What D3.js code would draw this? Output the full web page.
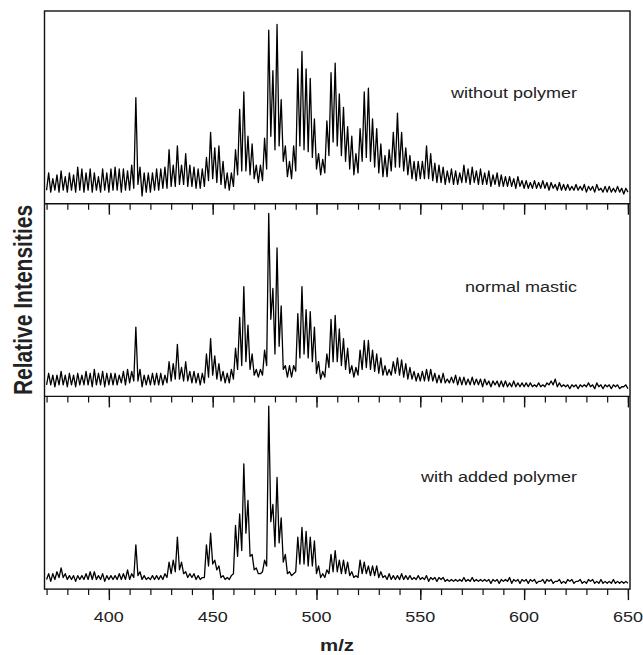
<!DOCTYPE html>
<html>
<head>
<meta charset="utf-8">
<script src="https://cdn.jsdelivr.net/npm/d3@7"></script>
<style>
  body { margin: 0; background: #fff; }
  text { font-family: "Liberation Sans", Arial, sans-serif; fill: #222; }
</style>
</head>
<body>
<svg width="643" height="655"></svg>
<script>
// intensities (% of panel height) at every integer m/z from 370 to 650
const mzStart = 370;

const withoutPolymer = [
  7, 16, 6, 13, 7, 15, 6, 17, 7, 14,
  6, 16, 7, 15, 6, 19, 7, 18, 6, 16,
  7, 18, 6, 16, 7, 14, 6, 18, 7, 16,
  6, 18, 7, 19, 7, 18, 6, 18, 7, 17,
  7, 20, 8, 55, 10, 19, 4, 16, 6, 16,
  6, 16, 7, 18, 7, 18, 8, 19, 8, 28,
  9, 20, 9, 30, 10, 20, 10, 26, 9, 20,
  9, 19, 8, 18, 8, 18, 9, 24, 12, 37,
  13, 29, 11, 30, 10, 22, 8, 16, 7, 16,
  9, 28, 15, 49, 17, 58, 17, 35, 15, 31,
  13, 20, 11, 20, 12, 34, 18, 90, 35, 69,
  28, 93, 30, 54, 22, 30, 14, 22, 13, 30,
  17, 70, 30, 79, 28, 70, 27, 65, 24, 44,
  18, 26, 15, 23, 16, 43, 25, 68, 32, 73,
  30, 57, 25, 50, 22, 40, 18, 35, 15, 26,
  16, 39, 22, 58, 24, 60, 22, 44, 19, 39,
  16, 31, 14, 25, 14, 28, 17, 37, 19, 47,
  19, 37, 17, 29, 15, 25, 13, 22, 12, 22,
  13, 22, 13, 30, 13, 26, 12, 21, 11, 20,
  11, 19, 10, 17, 11, 18, 10, 17, 10, 16,
  11, 20, 11, 18, 10, 19, 11, 17, 10, 18,
  10, 16, 10, 17, 9, 15, 10, 16, 9, 15,
  9, 14, 9, 14, 9, 13, 8, 14, 9, 12,
  8, 12, 8, 11, 8, 12, 8, 11, 8, 12,
  8, 11, 7, 11, 8, 10, 7, 11, 7, 10,
  7, 10, 7, 9, 7, 10, 7, 9, 7, 10,
  6, 9, 7, 9, 6, 10, 7, 8, 6, 9,
  6, 9, 6, 8, 6, 9, 6, 8, 5, 8,
  6
];

const normalMastic = [
  6, 12, 6, 11, 5, 11, 6, 13, 6, 11,
  5, 12, 6, 11, 5, 12, 6, 11, 6, 13,
  6, 12, 5, 14, 6, 12, 6, 13, 5, 12,
  6, 12, 6, 12, 6, 11, 7, 13, 6, 14,
  7, 13, 8, 36, 8, 14, 5, 11, 6, 11,
  6, 12, 6, 12, 6, 12, 6, 11, 7, 18,
  8, 17, 9, 27, 9, 15, 8, 18, 8, 13,
  7, 13, 7, 12, 6, 12, 7, 22, 10, 30,
  11, 21, 9, 17, 8, 13, 7, 12, 7, 14,
  9, 25, 14, 41, 16, 57, 18, 37, 14, 22,
  11, 14, 10, 14, 11, 24, 16, 95, 40, 56,
  22, 77, 26, 47, 14, 16, 10, 16, 10, 16,
  13, 43, 20, 57, 22, 45, 20, 44, 18, 36,
  12, 18, 9, 13, 10, 22, 15, 40, 18, 42,
  18, 35, 16, 30, 14, 25, 12, 16, 10, 15,
  11, 24, 14, 29, 15, 29, 14, 24, 13, 22,
  12, 20, 11, 16, 11, 14, 11, 18, 12, 20,
  11, 19, 10, 17, 9, 15, 9, 13, 8, 12,
  8, 13, 8, 14, 8, 14, 8, 12, 7, 11,
  7, 12, 7, 9, 7, 10, 7, 11, 6, 10,
  6, 10, 6, 9, 6, 10, 6, 9, 6, 9,
  5, 9, 6, 8, 5, 8, 6, 8, 5, 8,
  5, 8, 5, 7, 5, 8, 5, 7, 5, 7,
  5, 7, 5, 7, 5, 6, 5, 7, 5, 6,
  5, 7, 6, 8, 6, 9, 5, 7, 5, 6,
  5, 6, 4, 6, 5, 6, 4, 6, 5, 6,
  5, 7, 5, 6, 4, 7, 5, 6, 4, 6,
  5, 6, 4, 6, 5, 6, 4, 5, 5, 6,
  4
];

const addedPolymer = [
  5, 8, 4, 8, 5, 9, 6, 11, 6, 8,
  5, 7, 5, 7, 4, 7, 5, 7, 5, 8,
  5, 9, 5, 9, 5, 7, 5, 8, 4, 7,
  5, 7, 5, 7, 5, 8, 5, 8, 5, 10,
  5, 8, 6, 23, 7, 9, 5, 7, 5, 6,
  5, 7, 5, 7, 5, 7, 5, 8, 6, 14,
  8, 15, 9, 27, 10, 14, 8, 9, 6, 8,
  6, 8, 5, 7, 5, 6, 6, 23, 12, 29,
  13, 15, 10, 12, 6, 7, 5, 6, 5, 7,
  8, 33, 17, 39, 20, 65, 29, 46, 17, 18,
  10, 11, 8, 8, 9, 15, 12, 95, 35, 44,
  22, 58, 24, 37, 14, 18, 8, 9, 7, 8,
  9, 27, 13, 32, 13, 30, 12, 27, 12, 25,
  8, 12, 6, 8, 6, 10, 8, 18, 9, 20,
  9, 15, 8, 15, 8, 14, 7, 9, 6, 7,
  6, 15, 8, 14, 8, 12, 7, 12, 7, 12,
  6, 9, 6, 7, 5, 8, 5, 7, 5, 7,
  5, 8, 5, 7, 5, 7, 5, 6, 5, 7,
  5, 6, 5, 7, 4, 6, 5, 6, 4, 6,
  5, 6, 4, 5, 4, 5, 4, 5, 4, 5,
  4, 6, 4, 5, 4, 6, 4, 5, 4, 5,
  4, 5, 4, 5, 3, 5, 4, 5, 3, 5,
  4, 5, 4, 6, 3, 5, 4, 5, 3, 5,
  4, 5, 3, 5, 4, 5, 3, 4, 4, 5,
  3, 5, 4, 5, 3, 4, 4, 5, 3, 4,
  3, 5, 4, 5, 3, 4, 4, 5, 3, 4,
  3, 5, 4, 5, 3, 4, 3, 5, 3, 4,
  3, 4, 3, 5, 3, 4, 3, 4, 3, 4,
  3
];

const panelNames = ["without polymer", "normal mastic", "with added polymer"];
const minorTicks = d3.range(370, 651, 10);
const majorTicks = [400, 450, 500, 550, 600, 650];

const svg = d3.select("svg");
const plotLeft = 44.5, plotRight = 630, plotTop = 11, panelH = 192.7;

const x = d3.scaleLinear().domain([369, 651]).range([plotLeft, plotRight]);

const series = [withoutPolymer, normalMastic, addedPolymer];
const labelY = [97.5, 291.5, 481.5];

series.forEach((vals, i) => {
  const y0 = plotTop + panelH * i;
  const y = d3.scaleLinear().domain([0, 100]).range([y0 + panelH, y0]);

  const pts = vals.map((v, j) => ({ mz: mzStart + j, v: v }));
  const line = d3.line().x((d) => x(d.mz)).y((d) => y(d.v));

  svg.append("path")
    .datum(pts)
    .attr("fill", "none")
    .attr("stroke", "#000")
    .attr("stroke-width", 1.3)
    .attr("stroke-linejoin", "round")
    .attr("d", line);

  // ticks hanging below each panel
  const gMinor = svg.append("g")
    .attr("transform", `translate(0,${y0 + panelH})`)
    .call(d3.axisBottom(x).tickValues(minorTicks).tickSize(6).tickFormat(""));
  gMinor.select(".domain").remove();
  gMinor.selectAll("line").attr("stroke", "#111").attr("stroke-width", 1.2);

  const gMajor = svg.append("g")
    .attr("transform", `translate(0,${y0 + panelH})`)
    .call(d3.axisBottom(x).tickValues(majorTicks).tickSize(11).tickFormat(""));
  gMajor.select(".domain").remove();
  gMajor.selectAll("line").attr("stroke", "#111").attr("stroke-width", 1.4);

  svg.append("text")
    .attr("transform", `translate(577,${labelY[i]}) scale(1.2,1)`)
    .attr("text-anchor", "end")
    .style("font-size", "15px")
    .text(panelNames[i]);
});

// frame
const plotBottom = plotTop + panelH * 3;
svg.append("rect")
  .attr("x", plotLeft).attr("y", plotTop)
  .attr("width", plotRight - plotLeft).attr("height", plotBottom - plotTop)
  .attr("fill", "none").attr("stroke", "#111").attr("stroke-width", 1.4);
[1, 2].forEach((k) => {
  svg.append("line")
    .attr("x1", plotLeft).attr("x2", plotRight)
    .attr("y1", plotTop + panelH * k).attr("y2", plotTop + panelH * k)
    .attr("stroke", "#111").attr("stroke-width", 1.4);
});

// tick labels
svg.selectAll(".tl")
  .data(majorTicks)
  .join("text")
  .attr("class", "tl")
  .attr("transform", (d) => `translate(${x(d)},622) scale(1.2,1)`)
  .attr("text-anchor", "middle")
  .style("font-size", "15px")
  .text((d) => d);

svg.append("text")
  .attr("transform", "translate(337,651) scale(1.2,1)")
  .attr("text-anchor", "middle")
  .style("font-size", "17px")
  .style("font-weight", "bold")
  .text("m/z");

svg.append("text")
  .attr("transform", "translate(31.5,300) scale(1.2,1) rotate(-90)")
  .attr("text-anchor", "middle")
  .style("font-size", "21px")
  .style("font-weight", "bold")
  .text("Relative Intensities");
</script>
</body>
</html>
